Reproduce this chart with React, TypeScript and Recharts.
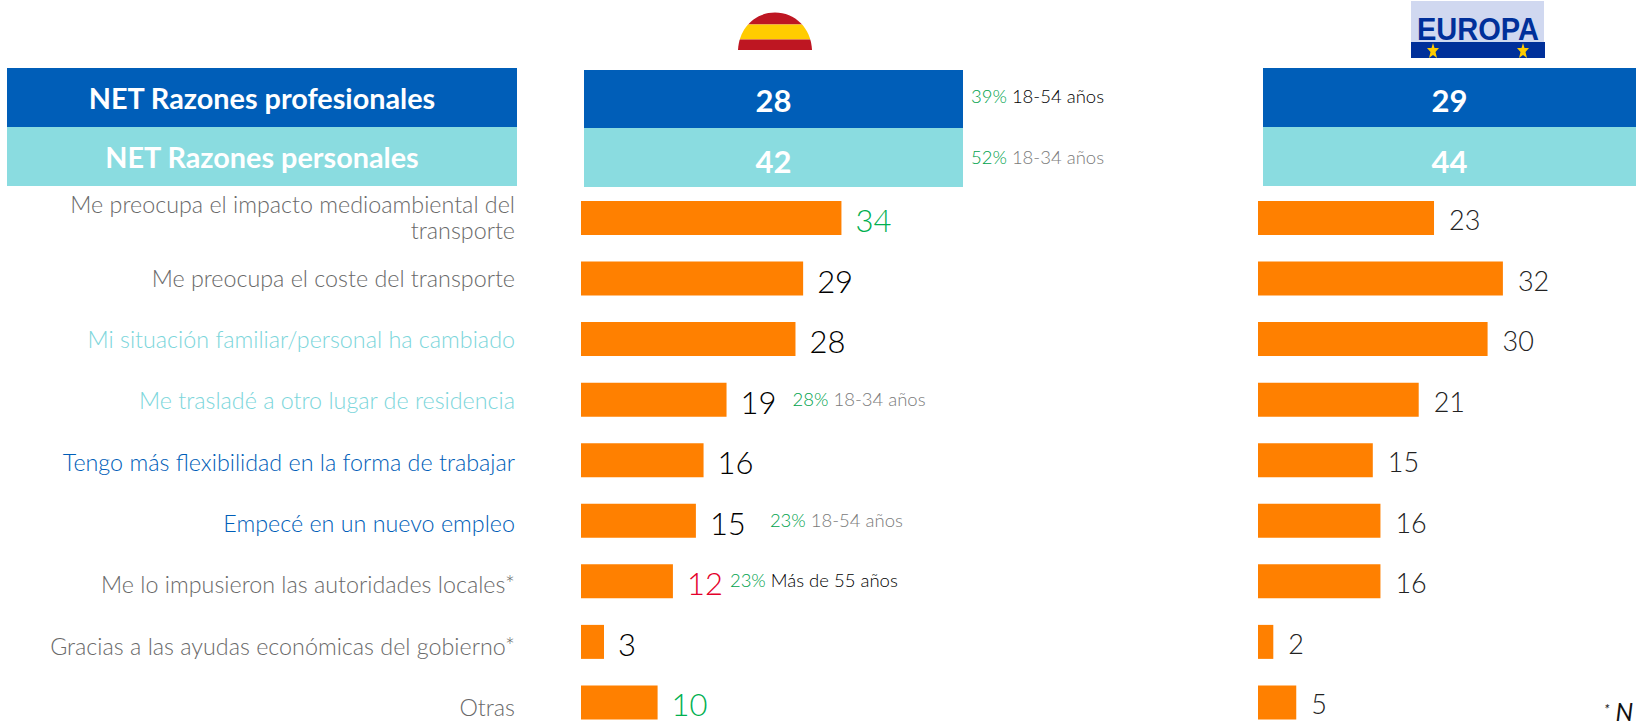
import { BarChart, Bar, XAxis, YAxis, LabelList } from 'recharts';

const reasons = [
    'Me preocupa el impacto medioambiental del|transporte',
    'Me preocupa el coste del transporte',
    'Mi situación familiar/personal ha cambiado',
    'Me trasladé a otro lugar de residencia',
    'Tengo más flexibilidad en la forma de trabajar',
    'Empecé en un nuevo empleo',
    'Me lo impusieron las autoridades locales*',
    'Gracias a las ayudas económicas del gobierno*',
    'Otras',
];
const spain = [34, 29, 28, 19, 16, 15, 12, 3, 10];
const europe = [23, 32, 30, 21, 15, 16, 16, 2, 5];
const reasonColors = ['#696969', '#696969', '#7CD6DB', '#7CD6DB', '#005EB8', '#005EB8', '#696969', '#696969', '#696969'];
const spainValueColors = ['#00B050', '#000000', '#000000', '#000000', '#000000', '#000000', '#E4002B', '#000000', '#00B050'];

const noteShares = ['', '', '', '28%', '', '23%', '23%', '', ''];
const noteGroups = ['', '', '', '18-34 años', '', '18-54 años', 'Más de 55 años', '', ''];
const noteGroupColors = ['', '', '', '#7A7A7A', '', '#7A7A7A', '#000000', '', ''];

const netLabels = ['NET Razones profesionales', 'NET Razones personales'];
const netSpain = [28, 42];
const netEurope = [29, 44];
const netColors = ['#005EB8', '#8ADCE0'];
const netNoteShares = ['39%', '52%'];
const netNoteGroups = ['18-54 años', '18-34 años'];
const netNoteColors = ['#000000', '#7A7A7A'];

const spainData = reasons.map((reason, i) => ({ reason, value: spain[i] }));
const europeData = reasons.map((reason, i) => ({ reason, value: europe[i] }));

const FONT = 'Lato, "Open Sans", sans-serif';
const GREEN = '#00A24C';
// gap between the end of the bar and the age note, per row
const NOTE_GAPS: Record<number, number> = { 3: 66, 5: 74, 6: 57 };

function ReasonTick({ y, payload, index }: any) {
    const lines = String(payload.value).split('|');
    const color = reasonColors[index];
    // the text rows in the reference drift down a little against the bars
    const drift = (index - 1) * 0.75;
    return (
        <text textAnchor="end" fontFamily={FONT} fontSize={23.3} fontWeight={300} fill={color}>
            {lines.map((line, i) => (
                <tspan key={i} x={515} y={y + 8 + drift + (i - (lines.length - 1) / 2) * 26}>
                    {line}
                </tspan>
            ))}
        </text>
    );
}

function SpainLabel({ x, y, width, height, value, index }: any) {
    const end = x + width;
    const mid = y + height / 2;
    return (
        <g fontFamily={FONT}>
            <text x={end + 14} y={mid + 14} fontSize={31} fontWeight={300} fill={spainValueColors[index]}>
                {value}
            </text>
            {noteShares[index] && (
                <text x={end + NOTE_GAPS[index]} y={mid + 6} fontSize={18.5} fontWeight={300}>
                    <tspan fill={GREEN}>{noteShares[index]}</tspan>
                    <tspan fill={noteGroupColors[index]} dx={5}>{noteGroups[index]}</tspan>
                </text>
            )}
        </g>
    );
}

function EuropeLabel({ x, y, width, height, value }: any) {
    return (
        <text x={x + width + 15} y={y + height / 2 + 12} fontFamily={FONT} fontSize={27} fontWeight={300} fill="#222222">
            {value}
        </text>
    );
}

function Cell({ left, top, width, height, color, size, text, textY }: any) {
    return (
        <div
            style={{
                position: 'absolute',
                left,
                top,
                width,
                height,
                background: color,
            }}
        >
            <div
                style={{
                    position: 'absolute',
                    left: 0,
                    width: '100%',
                    top: textY,
                    transform: 'translateY(-50%)',
                    textAlign: 'center',
                    color: '#fff',
                    fontFamily: FONT,
                    fontWeight: 700,
                    fontSize: size,
                    lineHeight: 1,
                }}
            >
                {text}
            </div>
        </div>
    );
}

function SpainFlag() {
    return (
        <svg style={{ position: 'absolute', left: 736, top: 10 }} width={78} height={42}>
            <defs>
                <clipPath id="dome">
                    <path d="M2 40 C3 18 19 2.5 39 2.5 C59 2.5 75 18 76 40 Z" />
                </clipPath>
            </defs>
            <g clipPath="url(#dome)">
                <rect x={0} y={0} width={78} height={14.5} fill="#BE1622" />
                <rect x={0} y={14.5} width={78} height={15} fill="#FFCC00" />
                <rect x={0} y={29.5} width={78} height={12} fill="#BE1622" />
            </g>
        </svg>
    );
}

function EuropeLogo() {
    const star = (cx: number) => (
        <polygon
            points={`${cx},43 ${cx + 1.5},48 ${cx + 6},48 ${cx + 2.5},52 ${cx + 4},58 ${cx},55 ${cx - 4},58 ${cx - 2.5},52 ${cx - 6},48 ${cx - 1.5},48`}
            fill="#FFCC00"
        />
    );
    return (
        <svg style={{ position: 'absolute', left: 1400, top: 0, overflow: 'visible' }} width={156} height={59} viewBox="1400 0 156 59">
            <rect x={1411} y={1} width={133} height={42} fill="#D0D8F0" />
            <rect x={1411} y={42} width={134} height={16} fill="#00309A" />
            <text
                x={1417}
                y={40}
                fontFamily="Liberation Sans, Arial, sans-serif"
                fontWeight={700}
                fontSize={32}
                fill="#00309A"
                textLength={122}
                lengthAdjust="spacingAndGlyphs"
            >
                EUROPA
            </text>
            {star(1433)}
            {star(1523)}
        </svg>
    );
}

function NetNote({ index, top }: any) {
    return (
        <div
            style={{
                position: 'absolute',
                left: 971,
                top,
                fontFamily: FONT,
                fontSize: 18.5,
                fontWeight: 300,
                lineHeight: 1,
                whiteSpace: 'nowrap',
            }}
        >
            <span style={{ color: GREEN }}>{netNoteShares[index]}</span>
            <span style={{ color: netNoteColors[index], marginLeft: 5 }}>{netNoteGroups[index]}</span>
        </div>
    );
}

export default function App() {
    return (
        <div style={{ position: 'absolute', left: 0, top: 0, width: 1636, height: 725, overflow: 'hidden', background: '#fff' }}>
            <SpainFlag />
            <EuropeLogo />

            <Cell left={7} top={68} width={510} height={59} color={netColors[0]} size={28.8} text={netLabels[0]} textY={30} />
            <Cell left={7} top={127} width={510} height={59} color={netColors[1]} size={28.8} text={netLabels[1]} textY={29.5} />
            <Cell left={584} top={70} width={379} height={58} color={netColors[0]} size={31} text={netSpain[0]} textY={30} />
            <Cell left={584} top={128} width={379} height={59} color={netColors[1]} size={31} text={netSpain[1]} textY={32.5} />
            <Cell left={1263} top={68} width={373} height={59} color={netColors[0]} size={31} text={netEurope[0]} textY={32} />
            <Cell left={1263} top={127} width={373} height={59} color={netColors[1]} size={31} text={netEurope[1]} textY={34} />
            <NetNote index={0} top={87} />
            <NetNote index={1} top={148} />

            <div style={{ position: 'absolute', left: 0, top: 188 }}>
                <BarChart
                    layout="vertical"
                    width={964}
                    height={545}
                    data={spainData}
                    margin={{ top: 0, right: 0, bottom: 0, left: 0 }}
                >
                    <XAxis type="number" domain={[0, 50]} hide />
                    <YAxis
                        type="category"
                        dataKey="reason"
                        width={581}
                        axisLine={false}
                        tickLine={false}
                        interval={0}
                        tick={<ReasonTick />}
                    />
                    <Bar dataKey="value" fill="#FF8000" barSize={34} isAnimationActive={false}>
                        <LabelList dataKey="value" content={<SpainLabel />} />
                    </Bar>
                </BarChart>
            </div>

            <div style={{ position: 'absolute', left: 1257.5, top: 188 }}>
                <BarChart
                    layout="vertical"
                    width={375}
                    height={545}
                    data={europeData}
                    margin={{ top: 0, right: 0, bottom: 0, left: 0 }}
                >
                    <XAxis type="number" domain={[0, 49]} hide />
                    <YAxis type="category" dataKey="reason" hide />
                    <Bar dataKey="value" fill="#FF8000" barSize={34} isAnimationActive={false}>
                        <LabelList dataKey="value" content={<EuropeLabel />} />
                    </Bar>
                </BarChart>
            </div>

            <div
                style={{
                    position: 'absolute',
                    left: 1604,
                    top: 699,
                    fontFamily: FONT,
                    fontStyle: 'italic',
                    fontSize: 25,
                    lineHeight: 1,
                    color: '#111',
                    whiteSpace: 'nowrap',
                }}
            >
                <span style={{ fontSize: 14, verticalAlign: 7 }}>*</span> N
            </div>
        </div>
    );
}
